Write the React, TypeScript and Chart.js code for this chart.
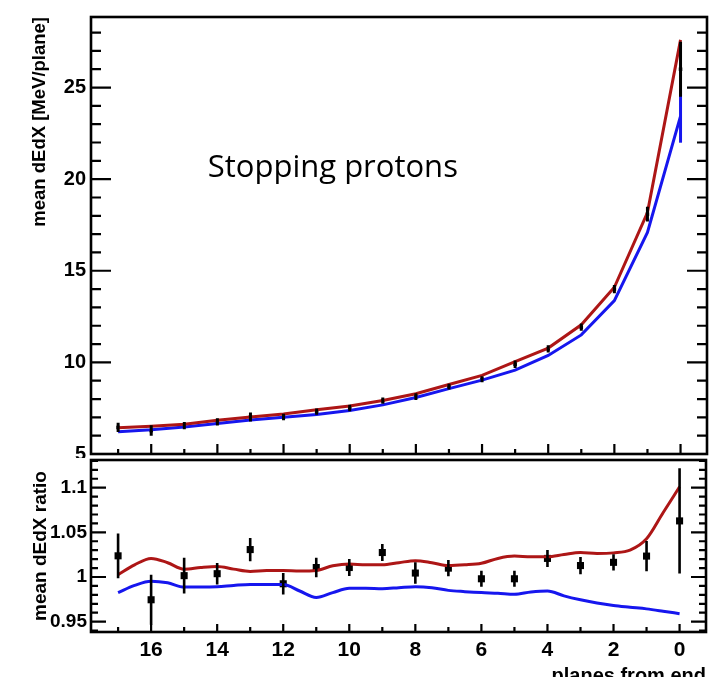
import React, { useEffect, useRef } from 'react';
import { Chart, registerables } from 'chart.js';

Chart.register(...registerables);

// ---------- data ----------
const planes = [17, 16, 15, 14, 13, 12, 11, 10, 9, 8, 7, 6, 5, 4, 3, 2, 1, 0];
const redMean = [6.43, 6.51, 6.63, 6.84, 7.02, 7.18, 7.42, 7.62, 7.92, 8.29, 8.79, 9.29, 10.04, 10.78, 12.05, 14.1, 18.18, 27.6];
const blueMean = [6.22, 6.32, 6.48, 6.66, 6.85, 7.0, 7.16, 7.37, 7.68, 8.08, 8.57, 9.03, 9.58, 10.38, 11.5, 13.37, 17.09, 23.44];
const blueMeanErr = [0, 0, 0, 0, 0, 0, 0, 0, 0, 0, 0, 0, 0, 0, 0, 0, 0, 1.45];
const dataMean = [6.45, 6.28, 6.55, 6.75, 7.02, 7.02, 7.31, 7.51, 7.91, 8.13, 8.68, 9.08, 9.9, 10.74, 11.92, 14.0, 18.09, 26.0];
const dataMeanErr = [0.25, 0.29, 0.2, 0.2, 0.24, 0.18, 0.17, 0.18, 0.17, 0.18, 0.16, 0.16, 0.2, 0.2, 0.2, 0.22, 0.4, 1.5];

const planesFine = [17, 16.5, 16, 15.5, 15, 14.5, 14, 13.5, 13, 12.5, 12, 11.5, 11, 10.5, 10, 9.5, 9, 8.5, 8, 7.5, 7, 6.5, 6, 5.5, 5, 4.5, 4, 3.5, 3, 2.5, 2, 1.5, 1, 0.5, 0];
const redRatio = [1.0026, 1.0136, 1.0208, 1.016, 1.0088, 1.0106, 1.0117, 1.0088, 1.0062, 1.0073, 1.0073, 1.0066, 1.0073, 1.0125, 1.0146, 1.0136, 1.0136, 1.016, 1.0183, 1.016, 1.0128, 1.0136, 1.0153, 1.0208, 1.0234, 1.0226, 1.0226, 1.0252, 1.0274, 1.0263, 1.027, 1.03, 1.0427, 1.0719, 1.101];
const blueRatio = [0.9825, 0.9906, 0.9953, 0.9935, 0.9887, 0.9887, 0.9891, 0.9906, 0.9917, 0.9917, 0.9917, 0.9843, 0.977, 0.9825, 0.9873, 0.9873, 0.9869, 0.988, 0.9891, 0.988, 0.985, 0.9836, 0.9825, 0.9818, 0.9807, 0.9832, 0.9843, 0.9789, 0.9745, 0.9708, 0.968, 0.9661, 0.9643, 0.9617, 0.9589];
const dataRatio = [1.0237, 0.9745, 1.0015, 1.0037, 1.0307, 0.9924, 1.0106, 1.0106, 1.0274, 1.0044, 1.0099, 0.998, 0.998, 1.0208, 1.0128, 1.0164, 1.0234, 1.0628];
const dataRatioErr = [0.025, 0.028, 0.02, 0.012, 0.013, 0.012, 0.011, 0.0095, 0.0095, 0.012, 0.009, 0.009, 0.009, 0.0095, 0.0097, 0.009, 0.017, 0.059];

// ---------- ticks ----------
const xMajorTicks = [0, 2, 4, 6, 8, 10, 12, 14, 16];
const xMinorTicks = [1, 3, 5, 7, 9, 11, 13, 15, 17];
const meanMajorTicks = [5, 10, 15, 20, 25];
const meanMinorTicks = [6, 7, 8, 9, 11, 12, 13, 14, 16, 17, 18, 19, 21, 22, 23, 24, 26, 27, 28];
const ratioMajorTicks = [0.95, 1, 1.05, 1.1];
const ratioMinorTicks = [0.94, 0.96, 0.97, 0.98, 0.99, 1.01, 1.02, 1.03, 1.04, 1.06, 1.07, 1.08, 1.09, 1.11, 1.12, 1.13];

const X_MIN = -0.8;
const X_MAX = 17.82;

const RED = '#ad1616';
const BLUE = '#1616ee';
const FONT = "'Liberation Sans', Arial, Helvetica, sans-serif";

const bold = (size: number) => ({ family: FONT, size, weight: 'bold' as const });

const errorBarPlugin = {
  id: 'errorBars',
  afterDatasetsDraw(chart: any) {
    const ctx = chart.ctx;
    const y = chart.scales.y;
    chart.data.datasets.forEach((ds: any, i: number) => {
      const errs = ds.errorBars;
      if (!errs) return;
      const meta = chart.getDatasetMeta(i);
      ctx.save();
      ctx.strokeStyle = ds.errorColor;
      ctx.lineWidth = ds.errorWidth;
      ctx.beginPath();
      meta.data.forEach((pt: any, j: number) => {
        const e = errs[j];
        if (!e) return;
        const v = ds.data[j].y;
        ctx.moveTo(pt.x, y.getPixelForValue(v - e));
        ctx.lineTo(pt.x, y.getPixelForValue(v + e));
      });
      ctx.stroke();
      ctx.restore();
    });
  },
};

function makeFramePlugin(cfg: any) {
  return {
    id: 'rootFrame',
    afterDraw(chart: any) {
      const { ctx, chartArea: a, scales } = chart;
      const x = scales.x;
      const y = scales.y;
      ctx.save();
      ctx.strokeStyle = '#000';
      ctx.lineWidth = 2.2;
      ctx.beginPath();
      const yTick = (v: number, len: number) => {
        const py = y.getPixelForValue(v);
        ctx.moveTo(a.left, py);
        ctx.lineTo(a.left + len, py);
        ctx.moveTo(a.right, py);
        ctx.lineTo(a.right - len, py);
      };
      cfg.yMajor.forEach((v: number) => yTick(v, cfg.yMajorLen));
      cfg.yMinor.forEach((v: number) => yTick(v, cfg.yMinorLen));
      const xTick = (v: number, len: number) => {
        const px = x.getPixelForValue(v);
        ctx.moveTo(px, a.bottom);
        ctx.lineTo(px, a.bottom - len);
      };
      xMajorTicks.forEach((v) => xTick(v, cfg.xMajorLen));
      xMinorTicks.forEach((v) => xTick(v, cfg.xMinorLen));
      ctx.stroke();
      ctx.lineWidth = 2.6;
      ctx.strokeRect(a.left, a.top, a.right - a.left, a.bottom - a.top);
      if (cfg.label) {
        ctx.fillStyle = '#000';
        ctx.font = cfg.label.font;
        ctx.textAlign = 'left';
        ctx.textBaseline = 'alphabetic';
        ctx.fillText(cfg.label.text, x.getPixelForValue(cfg.label.x), y.getPixelForValue(cfg.label.y));
      }
      if (cfg.xTitle) {
        ctx.fillStyle = '#000';
        ctx.font = `bold 20px ${FONT}`;
        ctx.textAlign = 'right';
        ctx.textBaseline = 'alphabetic';
        ctx.fillText(cfg.xTitle, a.right, a.bottom + 50);
      }
      ctx.restore();
    },
  };
}

const pts = (xs: number[], ys: number[]) => xs.map((v, i) => ({ x: v, y: ys[i] }));

export default function App() {
  const topRef = useRef<HTMLCanvasElement>(null);
  const botRef = useRef<HTMLCanvasElement>(null);

  useEffect(() => {
    const top = new Chart(topRef.current as HTMLCanvasElement, {
      type: 'scatter',
      data: {
        datasets: [
          { label: 'red', data: pts(planes, redMean), showLine: true, borderColor: RED, borderWidth: 3, pointRadius: 0, tension: 0 } as any,
          { label: 'blue', data: pts(planes, blueMean), showLine: true, borderColor: BLUE, borderWidth: 3, pointRadius: 0, tension: 0, errorBars: blueMeanErr, errorColor: BLUE, errorWidth: 3 } as any,
          { label: 'data', data: pts(planes, dataMean), showLine: false, pointStyle: 'rect', pointRadius: 2.5, backgroundColor: '#000', borderColor: '#000', borderWidth: 0, errorBars: dataMeanErr, errorColor: '#000', errorWidth: 3 } as any,
        ],
      },
      options: {
        animation: false,
        responsive: false,
        devicePixelRatio: 1,
        layout: { padding: { left: 0, right: 3, top: 17, bottom: 3 } },
        plugins: { legend: { display: false }, tooltip: { enabled: false } },
        scales: {
          x: { type: 'linear', display: false, reverse: true, min: X_MIN, max: X_MAX },
          y: {
            type: 'linear', min: 5, max: 28.85,
            grid: { display: false, drawTicks: false }, border: { display: false },
            afterBuildTicks: (s: any) => { s.ticks = meanMajorTicks.map((v) => ({ value: v })); },
            afterFit: (s: any) => { s.width = 91; s.paddingTop = 0; s.paddingBottom = 0; },
            ticks: { font: bold(20), color: '#000', padding: 5, autoSkip: false, callback: (v: any) => String(v) },
            title: { display: true, text: 'mean dEdX [MeV/plane]', align: 'end', font: bold(18.5), color: '#000', padding: { top: 28.5, bottom: 0 } },
          } as any,
        },
      },
      plugins: [
        makeFramePlugin({
          yMajor: meanMajorTicks, yMinor: meanMinorTicks, yMajorLen: 20, yMinorLen: 10,
          xMajorLen: 10, xMinorLen: 5,
          label: { text: 'Stopping protons', x: 14.29, y: 20.14, font: `31px 'Open Sans', sans-serif` },
        }),
        errorBarPlugin,
      ],
    });

    const bot = new Chart(botRef.current as HTMLCanvasElement, {
      type: 'scatter',
      data: {
        datasets: [
          { label: 'red', data: pts(planesFine, redRatio), showLine: true, borderColor: RED, borderWidth: 3, pointRadius: 0, cubicInterpolationMode: 'monotone' } as any,
          { label: 'blue', data: pts(planesFine, blueRatio), showLine: true, borderColor: BLUE, borderWidth: 3, pointRadius: 0, cubicInterpolationMode: 'monotone' } as any,
          { label: 'data', data: pts(planes, dataRatio), showLine: false, pointStyle: 'rect', pointRadius: 5, backgroundColor: '#000', borderColor: '#000', borderWidth: 0, errorBars: dataRatioErr, errorColor: '#000', errorWidth: 2.6 } as any,
        ],
      },
      options: {
        animation: false,
        responsive: false,
        devicePixelRatio: 1,
        layout: { padding: { left: 0, right: 3, top: 1, bottom: 0 } },
        plugins: { legend: { display: false }, tooltip: { enabled: false } },
        scales: {
          x: {
            type: 'linear', reverse: true, min: X_MIN, max: X_MAX, position: 'bottom',
            grid: { display: false, drawTicks: false }, border: { display: false },
            afterBuildTicks: (s: any) => { s.ticks = xMajorTicks.map((v) => ({ value: v })); },
            afterFit: (s: any) => { s.height = 63; s.paddingLeft = 0; s.paddingRight = 0; },
            ticks: { font: bold(21), color: '#000', padding: 6, maxRotation: 0, autoSkip: false, callback: (v: any) => String(v) },
          } as any,
          y: {
            type: 'linear', min: 0.9384, max: 1.131,
            grid: { display: false, drawTicks: false }, border: { display: false },
            afterBuildTicks: (s: any) => { s.ticks = ratioMajorTicks.map((v) => ({ value: v })); },
            afterFit: (s: any) => { s.width = 91; s.paddingTop = 0; s.paddingBottom = 0; },
            ticks: { font: bold(19), color: '#000', padding: 4, autoSkip: false, callback: (v: any) => String(v) },
            title: { display: true, text: 'mean dEdX ratio', align: 'center', font: bold(19), color: '#000', padding: { top: 29, bottom: 0 } },
          } as any,
        },
      },
      plugins: [
        makeFramePlugin({
          yMajor: ratioMajorTicks, yMinor: ratioMinorTicks, yMajorLen: 15, yMinorLen: 7,
          xMajorLen: 8, xMinorLen: 5,
          xTitle: 'planes from end',
        }),
        errorBarPlugin,
      ],
    });

    return () => {
      top.destroy();
      bot.destroy();
    };
  }, []);

  return (
    <div style={{ position: 'absolute', left: 0, top: 0, width: 711, height: 677, overflow: 'hidden', background: '#fff' }}>
      <canvas ref={topRef} width={711} height={458} style={{ position: 'absolute', left: 0, top: 0, width: 711, height: 458 }} />
      <canvas ref={botRef} width={711} height={240} style={{ position: 'absolute', left: 0, top: 455, width: 711, height: 240 }} />
    </div>
  );
}
